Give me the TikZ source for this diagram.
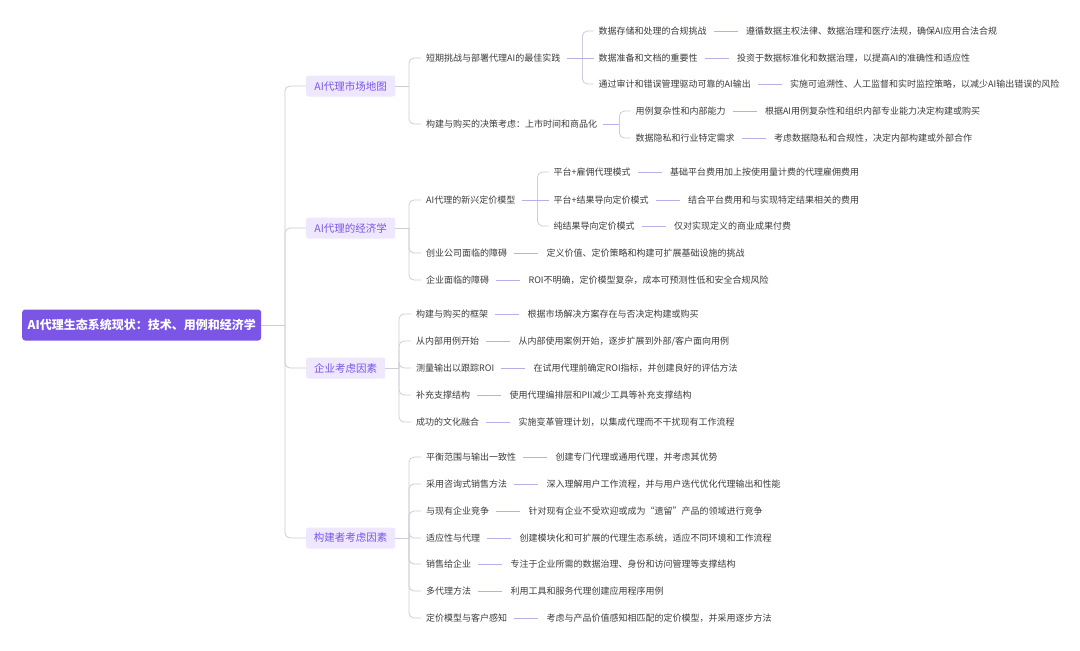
\documentclass[tikz,border=0pt]{standalone}
\usepackage{fontspec}
\setmainfont{Noto Sans CJK SC}
\usetikzlibrary{positioning}
\definecolor{rootc}{HTML}{7A55E6}
\definecolor{l1fill}{HTML}{EEE7FD}
\definecolor{l1text}{HTML}{7A55E6}
\definecolor{gry}{HTML}{CFCBD8}
\definecolor{lav}{HTML}{B8AEE8}
\definecolor{txt}{HTML}{3C3C3C}
\begin{document}
\begin{tikzpicture}[x=1pt,y=-1pt,
  rootbox/.style={fill=rootc, rounded corners=3pt, text=white, font=\fontsize{12}{14}\selectfont\bfseries, minimum width=239pt, minimum height=31pt, inner sep=0pt, anchor=west},
  l1box/.style={fill=l1fill, rounded corners=2.5pt, text=l1text, font=\fontsize{10.5}{12}\selectfont, minimum height=21pt, inner sep=0pt, anchor=west},
  leaf/.style={text=txt, font=\fontsize{9}{11}\selectfont, inner sep=0pt, anchor=west},
  desc/.style={leaf, right=39pt of #1},
  br/.style={draw=gry, line width=0.8pt, rounded corners=5pt},
  conn/.style={draw=lav, line width=0.8pt},
  link/.style={conn, shorten <=7pt, shorten >=8pt},
]
\fill[white] (0,0) rectangle (1080,651);
\useasboundingbox (0,0) rectangle (1080,651);

% root and trunk
\node[rootbox] (root) at (22,325) {AI代理生态系统现状：技术、用例和经济学};
\coordinate (t) at (285,325);
\node[l1box, minimum width=89pt] (b1) at (306,86) {AI代理市场地图};
\node[l1box, minimum width=89pt] (b2) at (306,228) {AI代理的经济学};
\node[l1box, minimum width=79pt] (b3) at (306,368) {企业考虑因素};
\node[l1box, minimum width=89pt] (b4) at (306,538) {构建者考虑因素};
\draw[br] (root.east) -- (t);
\foreach \n in {b1,b2,b3,b4} \draw[br] (t) |- (\n.west);

% ---------- branch 1
\coordinate (j1) at (409,86);
\node[leaf] (c11) at (426,58) {短期挑战与部署代理AI的最佳实践};
\node[leaf] (c12) at (426,124) {构建与购买的决策考虑：上市时间和商品化};
\draw[br] (b1.east) -- (j1);
\foreach \n in {c11,c12} \draw[br] (j1) |- ([xshift=-5pt]\n.west);

\path (c11.east) ++(22,0) coordinate (j11) ++(16,0) coordinate (k11);
\node[leaf] (d111) at ([yshift=27pt]k11) {数据存储和处理的合规挑战};
\node[leaf] (d112) at (k11) {数据准备和文档的重要性};
\node[leaf] (d113) at ([yshift=-26pt]k11) {通过审计和错误管理驱动可靠的AI输出};
\foreach \n in {d111,d113} \draw[br] (j11) |- ([xshift=-5pt]\n.west);
\draw[conn, shorten <=6pt] (c11.east) -- ([xshift=-5pt]d112.west);
\node[desc=d111] (e111) {遵循数据主权法律、数据治理和医疗法规，确保AI应用合法合规};
\node[desc=d112] (e112) {投资于数据标准化和数据治理，以提高AI的准确性和适应性};
\node[desc=d113] (e113) {实施可追溯性、人工监督和实时监控策略，以减少AI输出错误的风险};
\foreach \n in {111,112,113} \draw[link] (d\n.east) -- (e\n.west);

\path (c12.east) ++(22,0) coordinate (j12) ++(16,0) coordinate (k12);
\node[leaf] (d121) at ([yshift=13pt]k12) {用例复杂性和内部能力};
\node[leaf] (d122) at ([yshift=-14pt]k12) {数据隐私和行业特定需求};
\foreach \n in {d121,d122} \draw[br] (j12) |- ([xshift=-5pt]\n.west);
\draw[conn, shorten <=6pt] (c12.east) -- (j12);
\node[desc=d121] (e121) {根据AI用例复杂性和组织内部专业能力决定构建或购买};
\node[desc=d122] (e122) {考虑数据隐私和合规性，决定内部构建或外部合作};
\foreach \n in {121,122} \draw[link] (d\n.east) -- (e\n.west);

% ---------- branch 2
\coordinate (j2) at (409,228);
\node[leaf] (c21) at (426,200) {AI代理的新兴定价模型};
\node[leaf] (c22) at (426,253) {创业公司面临的障碍};
\node[leaf] (c23) at (426,280) {企业面临的障碍};
\draw[br] (b2.east) -- (j2);
\foreach \n in {c21,c22,c23} \draw[br] (j2) |- ([xshift=-5pt]\n.west);

\path (c21.east) ++(22,0) coordinate (j21) ++(16,0) coordinate (k21);
\node[leaf] (d211) at ([yshift=28pt]k21) {平台+雇佣代理模式};
\node[leaf] (d212) at (k21) {平台+结果导向定价模式};
\node[leaf] (d213) at ([yshift=-26pt]k21) {纯结果导向定价模式};
\foreach \n in {d211,d213} \draw[br] (j21) |- ([xshift=-5pt]\n.west);
\draw[conn, shorten <=6pt] (c21.east) -- ([xshift=-5pt]d212.west);
\node[desc=d211] (e211) {基础平台费用加上按使用量计费的代理雇佣费用};
\node[desc=d212] (e212) {结合平台费用和与实现特定结果相关的费用};
\node[desc=d213] (e213) {仅对实现定义的商业成果付费};
\foreach \n in {211,212,213} \draw[link] (d\n.east) -- (e\n.west);

\node[desc=c22] (e22) {定义价值、定价策略和构建可扩展基础设施的挑战};
\node[desc=c23] (e23) {ROI不明确，定价模型复杂，成本可预测性低和安全合规风险};
\foreach \n in {22,23} \draw[link] (c\n.east) -- (e\n.west);

% ---------- branch 3
\coordinate (j3) at (399,368);
\node[leaf] (c31) at (416,314) {构建与购买的框架};
\node[leaf] (c32) at (416,341) {从内部用例开始};
\node[leaf] (c33) at (416,368) {测量输出以跟踪ROI};
\node[leaf] (c34) at (416,395) {补充支撑结构};
\node[leaf] (c35) at (416,422) {成功的文化融合};
\draw[br] (b3.east) -- (j3);
\foreach \n in {c31,c32,c33,c34,c35} \draw[br] (j3) |- ([xshift=-5pt]\n.west);
\node[desc=c31] (e31) {根据市场解决方案存在与否决定构建或购买};
\node[desc=c32] (e32) {从内部使用案例开始，逐步扩展到外部/客户面向用例};
\node[desc=c33] (e33) {在试用代理前确定ROI指标，并创建良好的评估方法};
\node[desc=c34] (e34) {使用代理编排层和PII减少工具等补充支撑结构};
\node[desc=c35] (e35) {实施变革管理计划，以集成代理而不干扰现有工作流程};
\foreach \n in {31,32,33,34,35} \draw[link] (c\n.east) -- (e\n.west);

% ---------- branch 4
\coordinate (j4) at (409,538);
\node[leaf] (c41) at (426,457) {平衡范围与输出一致性};
\node[leaf] (c42) at (426,484) {采用咨询式销售方法};
\node[leaf] (c43) at (426,511) {与现有企业竞争};
\node[leaf] (c44) at (426,538) {适应性与代理};
\node[leaf] (c45) at (426,564) {销售给企业};
\node[leaf] (c46) at (426,591) {多代理方法};
\node[leaf] (c47) at (426,618) {定价模型与客户感知};
\draw[br] (b4.east) -- (j4);
\foreach \n in {c41,c42,c43,c44,c45,c46,c47} \draw[br] (j4) |- ([xshift=-5pt]\n.west);
\node[desc=c41] (e41) {创建专门代理或通用代理，并考虑其优势};
\node[desc=c42] (e42) {深入理解用户工作流程，并与用户迭代优化代理输出和性能};
\node[desc=c43] (e43) {针对现有企业不受欢迎或成为“遗留”产品的领域进行竞争};
\node[desc=c44] (e44) {创建模块化和可扩展的代理生态系统，适应不同环境和工作流程};
\node[desc=c45] (e45) {专注于企业所需的数据治理、身份和访问管理等支撑结构};
\node[desc=c46] (e46) {利用工具和服务代理创建应用程序用例};
\node[desc=c47] (e47) {考虑与产品价值感知相匹配的定价模型，并采用逐步方法};
\foreach \n in {41,42,43,44,45,46,47} \draw[link] (c\n.east) -- (e\n.west);
\end{tikzpicture}
\end{document}
